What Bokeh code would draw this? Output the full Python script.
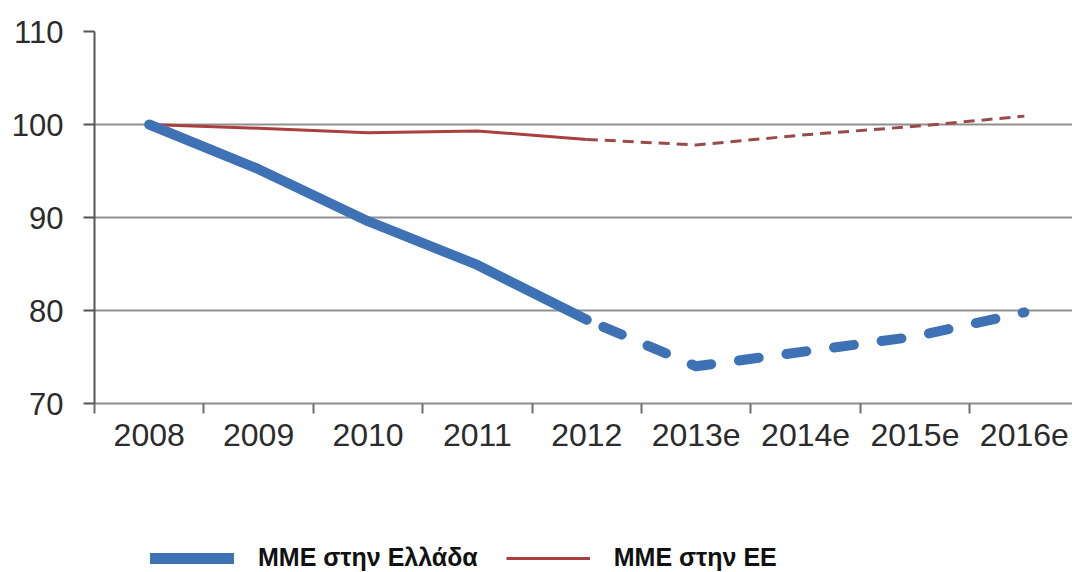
from bokeh.plotting import figure
from bokeh.layouts import column
from bokeh.models import FixedTicker, Legend, LegendItem, ColumnDataSource
from bokeh.embed import file_html
from bokeh.resources import INLINE

years = ["2008", "2009", "2010", "2011", "2012", "2013e", "2014e", "2015e", "2016e"]
greece = [100, 95.2, 89.6, 84.9, 79.0, 74.0, 75.6, 77.2, 79.8]
eu = [100, 99.6, 99.1, 99.3, 98.4, 97.8, 98.9, 99.8, 100.9]
y_ticks = [70, 80, 90, 100, 110]
grid_ticks = [80, 90, 100]
label_gr = "ΜΜΕ στην Ελλάδα"
label_eu = "ΜΜΕ στην ΕΕ"

xs = list(range(len(years)))
split = years.index("2012")

blue = "#3F72B4"
red = "#A9403F"
red_dash = "#9a4a4a"

p = figure(width=1072, height=492, output_backend="svg", toolbar_location=None,
           x_range=(-0.5, 8.44), y_range=(70, 110),
           min_border_left=94, min_border_right=0, min_border_top=31, min_border_bottom=89)
p.outline_line_color = None
p.background_fill_color = "white"
p.border_fill_color = "white"

# axes
xa = p.xaxis[0]
xa.ticker = FixedTicker(ticks=xs, minor_ticks=[i - 0.5 for i in xs])
xa.major_label_overrides = {i: y for i, y in zip(xs, years)}
xa.major_tick_out = 0
xa.major_tick_in = 0
xa.minor_tick_out = 10
xa.minor_tick_in = 0
xa.minor_tick_line_color = "#6e6e6e"
xa.minor_tick_line_width = 2
xa.axis_line_color = "#8c8c8c"
xa.axis_line_width = 2
xa.major_label_text_font = "Liberation Sans"
xa.major_label_text_font_size = "32px"
xa.major_label_text_color = "#2b2b2b"
xa.major_label_standoff = 10

ya = p.yaxis[0]
ya.ticker = FixedTicker(ticks=y_ticks)
ya.minor_tick_line_color = None
ya.major_tick_out = 11
ya.major_tick_in = 0
ya.major_tick_line_color = "#555555"
ya.major_tick_line_width = 2
ya.axis_line_color = "#555555"
ya.axis_line_width = 2
ya.major_label_text_font = "Liberation Sans"
ya.major_label_text_font_size = "31px"
ya.major_label_text_color = "#2b2b2b"
ya.major_label_standoff = 20

p.xgrid.visible = False
p.ygrid.ticker = FixedTicker(ticks=grid_ticks)
p.ygrid.grid_line_color = "#8f8f8f"
p.ygrid.grid_line_width = 2

src_gr_a = ColumnDataSource(dict(x=xs[:split + 1], y=greece[:split + 1]))
src_gr_b = ColumnDataSource(dict(x=xs[split:], y=greece[split:]))
src_eu_a = ColumnDataSource(dict(x=xs[:split + 1], y=eu[:split + 1]))
src_eu_b = ColumnDataSource(dict(x=xs[split:], y=eu[split:]))

p.line("x", "y", source=src_eu_a, line_color=red, line_width=3)
p.line("x", "y", source=src_eu_b, line_color=red_dash, line_width=3, line_dash="11 7")
p.line("x", "y", source=src_gr_a, line_color=blue, line_width=10, line_cap="round", line_join="round")
p.line("x", "y", source=src_gr_b, line_color=blue, line_width=10, line_cap="round",
       line_join="round", line_dash="20 28", line_dash_offset=30)

# legend strip below the chart (its lines lie outside its own ranges; only the key shows)
lg = figure(width=1072, height=80, output_backend="svg", toolbar_location=None,
            x_range=(-0.5, 8.44), y_range=(0, 1), x_axis_location=None, y_axis_location=None,
            min_border=0)
lg.outline_line_color = None
lg.xgrid.visible = False
lg.ygrid.visible = False
lg.background_fill_color = "white"
lg.border_fill_color = "white"
k_gr = lg.line("x", "y", source=src_gr_a, line_color=blue, line_width=11, line_cap="round")
k_eu = lg.line("x", "y", source=src_eu_a, line_color=red, line_width=3)

legend = Legend(items=[LegendItem(label=label_gr, renderers=[k_gr]),
                       LegendItem(label=label_eu, renderers=[k_eu])],
                orientation="horizontal", location=(56, 0))
legend.glyph_width = 84
legend.glyph_height = 20
legend.label_height = 20
legend.label_standoff = 24
legend.spacing = 28
legend.padding = 0
legend.margin = 0
legend.border_line_color = None
legend.background_fill_alpha = 0
legend.label_text_font = "Liberation Sans"
legend.label_text_font_style = "bold"
legend.label_text_font_size = "25px"
legend.label_text_color = "#111111"
lg.add_layout(legend, "center")

open("out.html", "w").write(file_html(column(p, lg, spacing=0), INLINE))
